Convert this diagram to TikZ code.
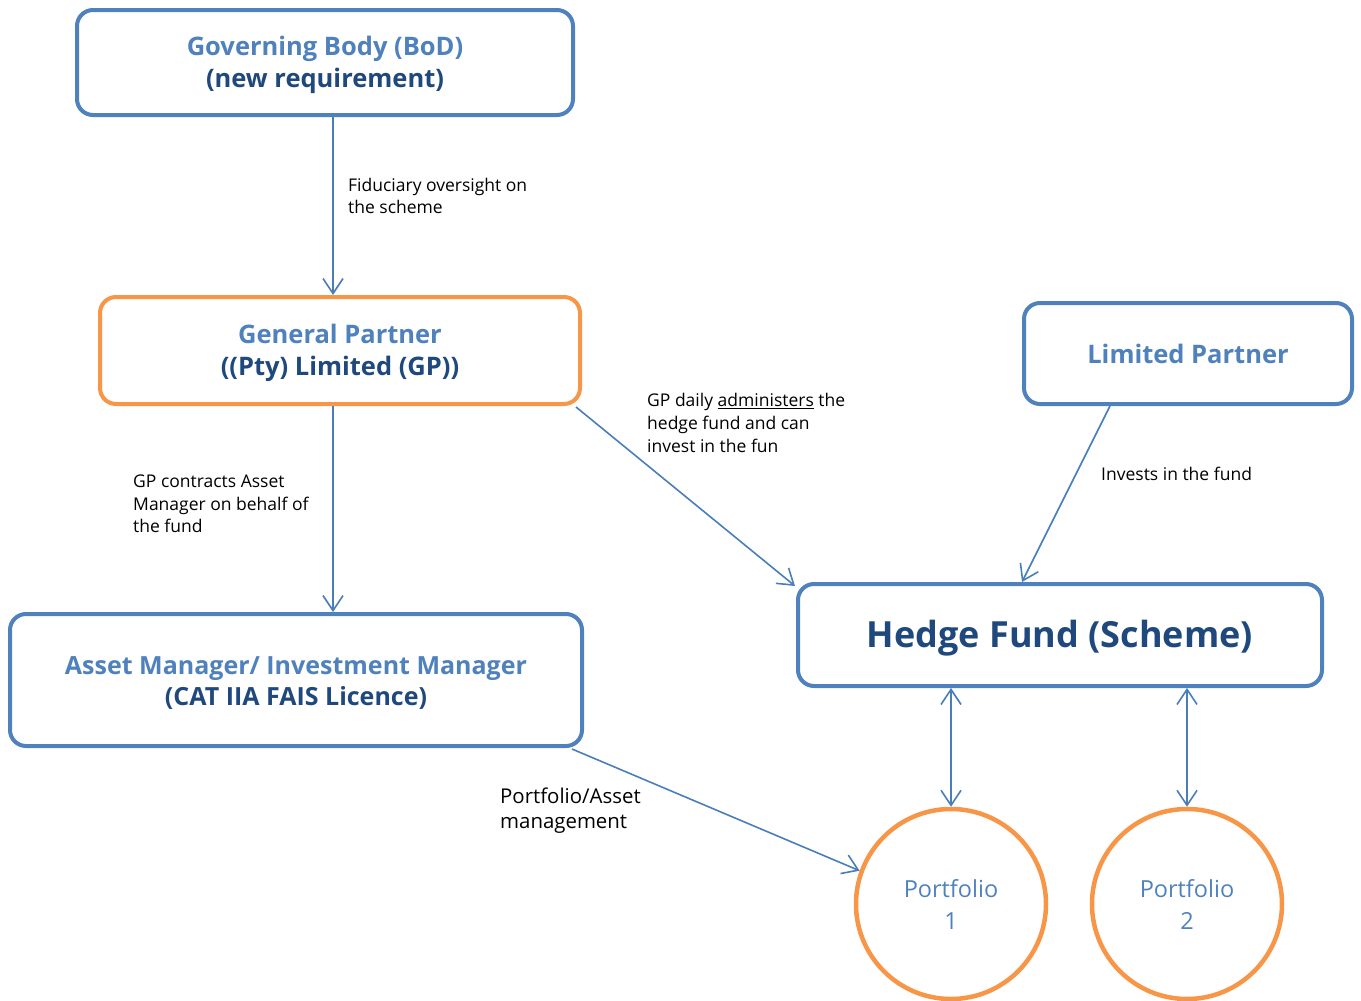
\documentclass[tikz,border=0pt]{standalone}
\usepackage{fontspec}
\setmainfont{Open Sans}
\usetikzlibrary{arrows.meta,calc}
\definecolor{boxblue}{HTML}{4F81BD}
\definecolor{lineblue}{HTML}{4A7EBB}
\definecolor{darkblue}{HTML}{1F497D}
\definecolor{orangeb}{HTML}{F79646}
\newcommand\pushdn[1]{\rule{0pt}{\dimexpr\fontcharht\font`\(+#1\relax}}
\tikzset{
  box/.style={draw=boxblue, line width=4pt, rounded corners=16pt, fill=white, align=center, inner sep=0pt,
    font=\fontsize{25.5}{32}\selectfont\bfseries},
  obox/.style={box, draw=orangeb},
  port/.style={circle, draw=orangeb, line width=4.5pt, minimum size=190pt, inner sep=0pt, align=center,
    text=boxblue, font=\fontsize{23.5}{32}\selectfont},
  arr/.style={draw=lineblue, line width=1.6pt, -{Straight Barb[length=15pt,width=20pt,line width=1.6pt]}},
  darr/.style={draw=lineblue, line width=1.6pt, {Straight Barb[length=15pt,width=20pt,line width=1.6pt]}-{Straight Barb[length=15pt,width=20pt,line width=1.6pt]}},
  lab/.style={align=left, anchor=north west, inner sep=0pt, font=\fontsize{17.5}{22.5}\selectfont, text=black}
}
\begin{document}
\begin{tikzpicture}[x=1pt,y=-1pt]
\useasboundingbox (0,0) rectangle (1361,1001);
\node[box, minimum width=496pt, minimum height=105pt] (bod) at (325,62.5)
  {\pushdn{6pt}\textcolor{boxblue}{Governing Body (BoD)}\\\textcolor{darkblue}{(new requirement)}};
\node[obox, minimum width=480pt, minimum height=107pt] (gp) at (340,350.5)
  {\pushdn{6pt}\textcolor{boxblue}{General Partner}\\\textcolor{darkblue}{((Pty) Limited (GP))}};
\node[box, minimum width=572pt, minimum height=132pt, font=\fontsize{25}{31}\selectfont\bfseries] (am) at (296,680)
  {\pushdn{6pt}\textcolor{boxblue}{Asset Manager/ Investment Manager}\\\textcolor{darkblue}{(CAT IIA FAIS Licence)}};
\node[box, minimum width=524pt, minimum height=102pt, font=\fontsize{36}{40}\selectfont\bfseries, text=darkblue] (hf) at (1060,635)
  {\pushdn{8pt}Hedge Fund (Scheme)};
\node[box, minimum width=328pt, minimum height=101pt, text=boxblue] (lp) at (1188,353.5)
  {Limited Partner};
\node[port] (p1) at (951,904) {\pushdn{2pt}Portfolio\\1};
\node[port] (p2) at (1187,904) {\pushdn{2pt}Portfolio\\2};

\draw[arr] ([xshift=8pt]bod.south) -- ([xshift=-7pt]gp.north);
\draw[arr] ([xshift=-7pt]gp.south) -- ([xshift=37pt]am.north);
\draw[arr] ([xshift=-6pt,yshift=-1pt]gp.south east) -- ([xshift=-1pt,yshift=-4pt]hf.north west);
\draw[arr] ([xshift=-78pt]lp.south) -- ([xshift=-38pt]hf.north);
\draw[arr] ([xshift=-12pt,yshift=-1pt]am.south east) -- (p1.160);
\draw[darr] (p1.north |- hf.south) -- (p1.north);
\draw[darr] (p2.north |- hf.south) -- (p2.north);

\node[lab] (l1) at (348,178) {Fiduciary oversight on\\the scheme};
\node[lab] (l2) at (133,475) {GP contracts Asset\\Manager on behalf of\\the fund};
\node[lab, font=\fontsize{17.5}{23}\selectfont] (l3) at (647,393) {GP daily \underline{administers} the\\hedge fund and can\\invest in the fun};
\node[lab] (l4) at (1101,467) {Invests in the fund};
\node[lab, font=\fontsize{20.4}{25}\selectfont] (l5) at (500,788) {Portfolio/Asset\\management};
\end{tikzpicture}
\end{document}
